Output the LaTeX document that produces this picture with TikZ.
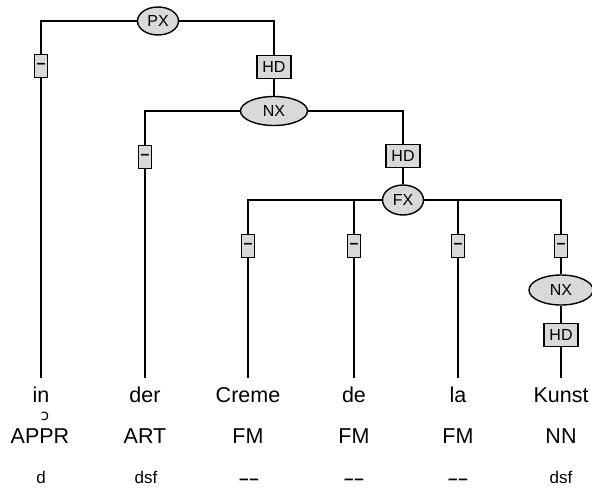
\documentclass[tikz,border=0pt]{standalone}
\usepackage{fontspec}
\setmainfont{Liberation Sans}
\newfontfamily\ipafont{DejaVu Sans}
\usetikzlibrary{shapes.geometric}
\definecolor{nodefill}{RGB}{217,217,217}
\tikzset{
  catnode/.style={ellipse, draw, line width=1.4pt, fill=nodefill, inner sep=0pt,
    font=\fontsize{16}{16}\selectfont},
  funcbox/.style={rectangle, draw, line width=1.4pt, fill=nodefill, inner sep=0pt,
    minimum height=23pt, font=\fontsize{16}{16}\selectfont},
  edge/.style={line width=1.4pt},
  wordtext/.style={anchor=base, inner sep=0pt, font=\fontsize{21.5}{21.5}\selectfont},
  postext/.style={anchor=base, inner sep=0pt, font=\fontsize{21.5}{21.5}\selectfont},
  lemtext/.style={anchor=base, inner sep=0pt, font=\fontsize{17}{17}\selectfont},
}
\newcommand{\funcdash}{\textbf{\textendash}}
\newcommand{\dbldash}{\textbf{\textendash\kern1pt\textendash}}
\begin{document}
\begin{tikzpicture}[x=1pt, y=-1pt]
\useasboundingbox (0,0) rectangle (592,490);
% categories
\node[catnode, minimum width=41pt, minimum height=28pt] (px) at (158,21) {PX};
\node[catnode, minimum width=67pt, minimum height=29pt] (nx1) at (274,111) {NX};
\node[catnode, minimum width=41pt, minimum height=30pt] (fx) at (403,200) {FX};
\node[catnode, minimum width=64pt, minimum height=30pt] (nx2) at (561,290) {NX};
% function boxes
\node[funcbox, minimum width=13pt] (m1) at (41,66) {\funcdash};
\node[funcbox, minimum width=34pt] (hd1) at (274,67) {HD};
\node[funcbox, minimum width=13pt] (m2) at (145,157) {\funcdash};
\node[funcbox, minimum width=34pt] (hd2) at (403,156) {HD};
\node[funcbox, minimum width=13pt] (m3) at (248,246) {\funcdash};
\node[funcbox, minimum width=13pt] (m4) at (354,246) {\funcdash};
\node[funcbox, minimum width=13pt] (m5) at (458,246) {\funcdash};
\node[funcbox, minimum width=13pt] (m6) at (561,246) {\funcdash};
\node[funcbox, minimum width=34pt] (hd3) at (561,335) {HD};
% line ends
\coordinate (e1) at (41,378);
\coordinate (e2) at (145,378);
\coordinate (e3) at (248,378);
\coordinate (e4) at (354,378);
\coordinate (e5) at (458,378);
\coordinate (e6) at (561,378);
% connectors
\draw[edge] (px) -| (m1);
\draw[edge] (m1) -- (e1);
\draw[edge] (px) -| (hd1);
\draw[edge] (hd1) -- (nx1);
\draw[edge] (nx1) -| (m2);
\draw[edge] (m2) -- (e2);
\draw[edge] (nx1) -| (hd2);
\draw[edge] (hd2) -- (fx);
\draw[edge] (fx) -| (m3);
\draw[edge] (m3) -- (e3);
\draw[edge] (fx) -| (m4);
\draw[edge] (m4) -- (e4);
\draw[edge] (fx) -| (m5);
\draw[edge] (m5) -- (e5);
\draw[edge] (fx) -| (m6);
\draw[edge] (m6) -- (nx2);
\draw[edge] (nx2) -- (hd3);
\draw[edge] (hd3) -- (e6);
% words
\node[wordtext] (w1) at (41,402) {in};
\node[wordtext] (w2) at (145,402) {der};
\node[wordtext] (w3) at (248,402) {Creme};
\node[wordtext] (w4) at (354,402) {de};
\node[wordtext] (w5) at (458,402) {la};
\node[wordtext] (w6) at (561,402) {Kunst};
\node[inner sep=0pt, font=\ipafont\fontsize{15}{15}\selectfont] (mark) at (45,416) {ɔ};
% POS tags
\node[postext] (p1) at (40,443) {APPR};
\node[postext] (p2) at (145,443) {ART};
\node[postext] (p3) at (248,443) {FM};
\node[postext] (p4) at (354,443) {FM};
\node[postext] (p5) at (458,443) {FM};
\node[postext] (p6) at (561,443) {NN};
% third row
\node[lemtext] (l1) at (41,483) {d};
\node[lemtext] (l2) at (146,483) {dsf};
\node[lemtext] (l3) at (249,484) {\dbldash};
\node[lemtext] (l4) at (354,484) {\dbldash};
\node[lemtext] (l5) at (458,484) {\dbldash};
\node[lemtext] (l6) at (561,483) {dsf};
\end{tikzpicture}
\end{document}
